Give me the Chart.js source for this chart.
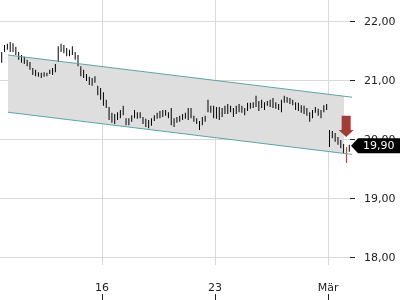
<!DOCTYPE html>
<html><head><meta charset="utf-8">
<script src="https://cdn.jsdelivr.net/npm/chart.js@4"></script>
<style>html,body{margin:0;padding:0;background:#fff;overflow:hidden}</style>
</head><body><canvas id="c" width="400" height="300"></canvas>
<script>
// ---- data ----
const barsPerDay = 8;          // intraday bars per trading day
const firstSlot = 4;           // first visible bar's slot in day 0
const lows = [
  21.31,21.49,21.53,21.49,
  21.49,21.44,21.36,21.31,21.29,21.25,21.19,21.10,
  21.08,21.07,21.05,21.07,21.08,21.12,21.10,21.15,
  21.32,21.49,21.47,21.42,21.42,21.44,21.36,21.25,
  21.08,21.05,21.00,20.93,20.92,20.97,20.76,20.68,
  20.58,20.54,20.34,20.29,20.27,20.34,20.37,20.42,
  20.25,20.25,20.31,20.37,20.36,20.37,20.27,20.22,
  20.20,20.24,20.32,20.36,20.37,20.39,20.41,20.37,
  20.25,20.22,20.29,20.31,20.34,20.36,20.34,20.37,
  20.31,20.27,20.17,20.25,20.31,20.47,20.46,20.37,
  20.36,20.34,20.39,20.44,20.44,20.47,20.39,20.44,
  20.47,20.46,20.42,20.49,20.53,20.54,20.56,20.49,
  20.54,20.51,20.58,20.56,20.54,20.53,20.51,20.47,
  20.63,20.63,20.61,20.59,20.51,20.49,20.46,20.44,
  20.41,20.31,20.37,20.46,20.41,20.37,20.47,20.51,
  19.88,20.03,19.97,19.92,19.86,19.78,19.61,19.80
];
const highs = [
  21.49,21.61,21.63,21.66,
  21.64,21.58,21.49,21.44,21.41,21.36,21.32,21.22,
  21.19,21.15,21.14,21.15,21.14,21.19,21.22,21.29,
  21.59,21.63,21.61,21.56,21.53,21.59,21.49,21.44,
  21.25,21.19,21.12,21.07,21.05,21.08,20.92,20.88,
  20.81,20.68,20.56,20.46,20.44,20.47,20.51,20.58,
  20.37,20.37,20.42,20.51,20.47,20.47,20.39,20.36,
  20.34,20.37,20.42,20.46,20.49,20.51,20.51,20.47,
  20.54,20.37,20.39,20.41,20.44,20.46,20.54,20.54,
  20.41,20.37,20.32,20.39,20.41,20.68,20.58,20.58,
  20.56,20.56,20.54,20.58,20.61,20.58,20.54,20.58,
  20.61,20.58,20.54,20.63,20.63,20.64,20.75,20.66,
  20.68,20.64,20.66,20.68,20.71,20.64,20.61,20.68,
  20.75,20.73,20.71,20.68,20.64,20.63,20.59,20.58,
  20.54,20.47,20.51,20.56,20.53,20.51,20.59,20.61,
  20.17,20.15,20.12,20.05,20.00,19.93,19.88,19.92
];
const xTickValues = [5, 10, 15];            // trading-day index of tick
const xTickLabels = ['16', '23', 'Mär'];
const channelX = [0.84, 15.71, 16.06];       // start, end of band, end of lines
const channelTop = [21.44, 20.74, 20.725];
const channelBottom = [20.47, 19.77, 19.755];
const arrowX = 15.8, arrowTop = 20.41, arrowHeadBase = 20.17, arrowTip = 20.05;
const lastPrice = 19.90;

// ---- build ----
const bars = lows.map((lo, i) => ({ x: (i + firstSlot + 0.5) / barsPerDay, y: [lo, highs[i]] }));
const fillTop = [0, 1].map(k => ({ x: channelX[k], y: channelTop[k] }));
const fillBottom = [0, 1].map(k => ({ x: channelX[k], y: channelBottom[k] }));
const lineTop = [0, 2].map(k => ({ x: channelX[k], y: channelTop[k] }));
const lineBottom = [0, 2].map(k => ({ x: channelX[k], y: channelBottom[k] }));
const fmt = v => v.toFixed(2).replace('.', ',');
const FONT = { family: '"DejaVu Sans"', size: 11 };
const highlightBar = lows.length - 2;
const noPad = s => { s.paddingTop = 0; s.paddingBottom = 0; s.paddingLeft = 0; s.paddingRight = 0; };

const annot = {
  id: 'annot',
  afterDraw(chart) {
    const { ctx, chartArea } = chart;
    const x = chart.scales.x, y = chart.scales.y;
    ctx.save();
    // arrow
    const ax = x.getPixelForValue(arrowX);
    const a0 = y.getPixelForValue(arrowTop), a1 = y.getPixelForValue(arrowHeadBase), a2 = y.getPixelForValue(arrowTip);
    ctx.fillStyle = '#a03d36';
    ctx.beginPath();
    ctx.moveTo(ax - 4.5, a0); ctx.lineTo(ax + 4.5, a0); ctx.lineTo(ax + 4.5, a1);
    ctx.lineTo(ax + 7.5, a1); ctx.lineTo(ax, a2); ctx.lineTo(ax - 7.5, a1); ctx.lineTo(ax - 4.5, a1);
    ctx.closePath(); ctx.fill();
    // price label
    const py = y.getPixelForValue(lastPrice);
    const lx = chartArea.right + 1;
    ctx.fillStyle = '#000';
    ctx.beginPath();
    ctx.moveTo(lx, py); ctx.lineTo(lx + 7, py - 7.5); ctx.lineTo(chart.width, py - 7.5);
    ctx.lineTo(chart.width, py + 7.5); ctx.lineTo(lx + 7, py + 7.5); ctx.closePath(); ctx.fill();
    ctx.fillStyle = '#fff';
    ctx.font = '11px "DejaVu Sans"';
    ctx.textBaseline = 'middle';
    ctx.fillText(fmt(lastPrice), 363, py + 0.5);
    // bottom tick marks
    ctx.strokeStyle = '#222'; ctx.lineWidth = 1;
    xTickValues.forEach(v => {
      const px = Math.round(x.getPixelForValue(v)) + 0.5;
      ctx.beginPath(); ctx.moveTo(px, chart.height - 6); ctx.lineTo(px, chart.height); ctx.stroke();
    });
    ctx.restore();
  }
};

new Chart(document.getElementById('c'), {
  data: {
    datasets: [
      { type: 'line', data: fillTop, borderWidth: 0, pointRadius: 0, fill: '+1', backgroundColor: '#dedede', order: 10 },
      { type: 'line', data: fillBottom, borderWidth: 0, pointRadius: 0, fill: false, order: 10 },
      { type: 'bar', data: bars, backgroundColor: c => c.dataIndex === highlightBar ? '#a03d36' : '#000', barThickness: 1, inflateAmount: 0, order: 5 },
      { type: 'line', data: lineTop, borderColor: '#5fa3a6', borderWidth: 1, pointRadius: 0, fill: false, order: 1, clip: false },
      { type: 'line', data: lineBottom, borderColor: '#5fa3a6', borderWidth: 1, pointRadius: 0, fill: false, order: 1, clip: false }
    ]
  },
  options: {
    responsive: false,
    animation: false,
    layout: { padding: 0 },
    plugins: { legend: { display: false }, tooltip: { enabled: false } },
    scales: {
      x: {
        type: 'linear', min: 0.487, max: 15.97, offset: false,
        afterBuildTicks: s => { s.ticks = xTickValues.map(v => ({ value: v })); },
        afterFit: s => { s.height = 35; noPad(s); },
        ticks: { callback: v => xTickLabels[xTickValues.indexOf(v)], font: FONT, color: '#222', padding: 17, maxRotation: 0, autoSkip: false },
        grid: { color: '#d9d9d9', drawTicks: false, offset: false },
        border: { display: false }
      },
      y: {
        position: 'right', min: 17.88, max: 22.373,
        afterFit: s => { s.width = 50; noPad(s); },
        ticks: { stepSize: 1, includeBounds: false, callback: v => fmt(v), font: FONT, color: '#222', padding: 9 },
        grid: { color: '#d9d9d9', tickColor: '#222', tickLength: 5 },
        border: { display: false }
      }
    }
  },
  plugins: [annot]
});
</script>
</body></html>
